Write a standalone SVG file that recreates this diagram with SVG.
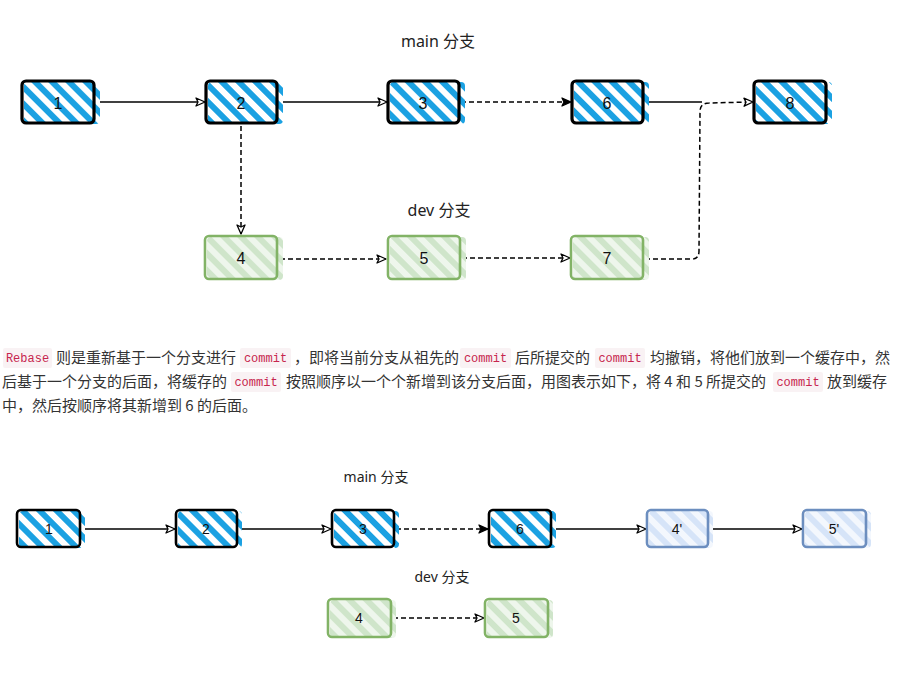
<svg xmlns="http://www.w3.org/2000/svg" width="902" height="676" viewBox="0 0 902 676">
<defs>
<pattern id="hb" width="12" height="12" patternUnits="userSpaceOnUse" patternTransform="rotate(-45)"><rect width="12" height="12" fill="#fff"/><rect width="6" height="12" fill="#1ba1e2"/></pattern>
<pattern id="hg" width="12" height="12" patternUnits="userSpaceOnUse" patternTransform="rotate(-45)"><rect width="12" height="12" fill="#eef6ec"/><rect width="6" height="12" fill="#cfe5ca"/></pattern>
<pattern id="hl" width="12" height="12" patternUnits="userSpaceOnUse" patternTransform="rotate(-45)"><rect width="12" height="12" fill="#f3f7fd"/><rect width="6" height="12" fill="#d6e4f8"/></pattern>
<marker id="open" markerWidth="12" markerHeight="10" refX="10" refY="5" orient="auto" markerUnits="userSpaceOnUse"><path d="M1,1 L10,5 L1,9 L3,5 Z" fill="#fff" stroke="#000" stroke-width="1.3" stroke-linejoin="round"/></marker>
<marker id="fill" markerWidth="12" markerHeight="10" refX="10" refY="5" orient="auto" markerUnits="userSpaceOnUse"><path d="M1,1 L10,5 L1,9 L3,5 Z" fill="#000" stroke="#000" stroke-width="1.3" stroke-linejoin="round"/></marker>
</defs>
<style>
.bk{stroke:#000;stroke-width:3.2;fill:none}
.bk2{stroke:#000;stroke-width:2.6;fill:none}
.gr{stroke:#82b366;stroke-width:2.6;fill:none}
.bl{stroke:#6c8ebf;stroke-width:2.6;fill:none}
.lbl{font-family:"Liberation Sans","Noto Sans CJK SC",sans-serif;fill:#111;text-anchor:middle;dominant-baseline:central}
.t1{font-size:16px}
.t2{font-size:14px}
.ttl{font-family:"Noto Sans","Noto Sans CJK SC",sans-serif;fill:#222;text-anchor:middle;dominant-baseline:central}
.e{fill:none;stroke:#000;stroke-width:1.5}
.d{stroke-dasharray:5 3}
.p{font-family:"Noto Sans CJK SC","Noto Sans",sans-serif;font-size:15px;fill:#333}
.c{font-family:"Liberation Mono","DejaVu Sans Mono",monospace;font-size:12px;fill:#c7254e;text-anchor:middle}
.cb{fill:#f9f2f4}
</style>

<text class="ttl" x="438" y="41" font-size="16">main 分支</text>
<text class="ttl" x="439" y="210" font-size="16">dev 分支</text>
<text class="ttl" x="376" y="476" font-size="14">main 分支</text>
<text class="ttl" x="442" y="576" font-size="14">dev 分支</text>

<g id="connectors">
<path class="e" d="M97,102 L205,102" marker-end="url(#open)"/>
<path class="e" d="M279,102 L387,102" marker-end="url(#open)"/>
<path class="e d" d="M461,102 L571,102" marker-end="url(#fill)"/>
<path class="e" d="M645,102 L702,102"/>
<path class="e d" d="M645,259 L692,259 Q699,259 699,251 L700,112 Q700,103 709,103 L753,102" marker-end="url(#open)"/>
<path class="e d" d="M241,126 L241,234" marker-end="url(#open)"/>
<path class="e d" d="M280,259 L386,259" marker-end="url(#open)"/>
<path class="e d" d="M462,258 L570,258" marker-end="url(#open)"/>

<path class="e" d="M82,529 L175,529" marker-end="url(#open)"/>
<path class="e" d="M239,529 L331,529" marker-end="url(#open)"/>
<path class="e d" d="M396,529 L488,529" marker-end="url(#fill)"/>
<path class="e" d="M553,529 L646,529" marker-end="url(#open)"/>
<path class="e" d="M710,529 L802,529" marker-end="url(#open)"/>
<path class="e d" d="M393,618 L484,618" marker-end="url(#open)"/>
</g>

<g id="n1"><rect x="24" y="82" width="76" height="42" rx="4" fill="url(#hb)"/><rect class="bk" x="22" y="81" width="72" height="42" rx="4"/><text class="lbl t1" x="58" y="103">1</text></g>
<g id="n2"><rect x="208" y="82" width="75" height="42" rx="4" fill="url(#hb)"/><rect class="bk" x="206" y="81" width="71" height="42" rx="4"/><text class="lbl t1" x="241" y="103">2</text></g>
<g id="n3"><rect x="390" y="82" width="75" height="42" rx="4" fill="url(#hb)"/><rect class="bk" x="388" y="81" width="71" height="42" rx="4"/><text class="lbl t1" x="423" y="103">3</text></g>
<g id="n6"><rect x="574" y="82" width="75" height="42" rx="4" fill="url(#hb)"/><rect class="bk" x="572" y="81" width="71" height="42" rx="4"/><text class="lbl t1" x="607" y="103">6</text></g>
<g id="n8"><rect x="756" y="82" width="76" height="42" rx="4" fill="url(#hb)"/><rect class="bk" x="754" y="81" width="72" height="42" rx="4"/><text class="lbl t1" x="790" y="103">8</text></g>

<g id="n4"><rect x="207" y="237" width="76" height="43" rx="4" fill="url(#hg)"/><rect class="gr" x="205" y="236" width="72" height="43" rx="4"/><text class="lbl t1" x="241" y="258">4</text></g>
<g id="n5"><rect x="390" y="237" width="76" height="43" rx="4" fill="url(#hg)"/><rect class="gr" x="388" y="236" width="72" height="43" rx="4"/><text class="lbl t1" x="424" y="258">5</text></g>
<g id="n7"><rect x="573" y="237" width="76" height="43" rx="4" fill="url(#hg)"/><rect class="gr" x="571" y="236" width="72" height="43" rx="4"/><text class="lbl t1" x="607" y="258">7</text></g>

<g id="text">
<rect class="cb" x="3" y="348" width="49" height="20" rx="2"/><text class="c" x="27.5" y="362">Rebase</text>
<text class="p" x="56" y="363">则是重新基于一个分支进行</text>
<rect class="cb" x="240" y="348" width="51" height="20" rx="2"/><text class="c" x="265.5" y="362">commit</text>
<text class="p" x="294" y="363">，即将当前分支从祖先的</text>
<rect class="cb" x="460" y="348" width="51" height="20" rx="2"/><text class="c" x="485.5" y="362">commit</text>
<text class="p" x="515" y="363">后所提交的</text>
<rect class="cb" x="595" y="348" width="50" height="20" rx="2"/><text class="c" x="620" y="362">commit</text>
<text class="p" x="650" y="363">均撤销，将他们放到一个缓存中，然</text>

<text class="p" x="2" y="387">后基于一个分支的后面，将缓存的</text>
<rect class="cb" x="231" y="372" width="50" height="20" rx="2"/><text class="c" x="256" y="386">commit</text>
<text class="p" x="286" y="387">按照顺序以一个个新增到该分支后面，用图表示如下，将 4 和 5 所提交的</text>
<rect class="cb" x="773" y="372" width="50" height="20" rx="2"/><text class="c" x="798" y="386">commit</text>
<text class="p" x="827" y="387">放到缓存</text>

<text class="p" x="2" y="411">中，然后按顺序将其新增到 6 的后面。</text>
</g>

<g id="b1"><rect x="19" y="511" width="66" height="37" rx="4" fill="url(#hb)"/><rect class="bk2" x="17" y="510" width="63" height="37" rx="4"/><text class="lbl t2" x="49" y="529">1</text></g>
<g id="b2"><rect x="178" y="511" width="64" height="37" rx="4" fill="url(#hb)"/><rect class="bk2" x="176" y="510" width="61" height="37" rx="4"/><text class="lbl t2" x="206" y="529">2</text></g>
<g id="b3"><rect x="334" y="511" width="65" height="37" rx="4" fill="url(#hb)"/><rect class="bk2" x="332" y="510" width="62" height="37" rx="4"/><text class="lbl t2" x="363" y="529">3</text></g>
<g id="b6"><rect x="491" y="511" width="65" height="37" rx="4" fill="url(#hb)"/><rect class="bk2" x="489" y="510" width="62" height="37" rx="4"/><text class="lbl t2" x="520" y="529">6</text></g>
<g id="b4p"><rect x="649" y="511" width="64" height="37" rx="4" fill="url(#hl)"/><rect class="bl" x="647" y="510" width="61" height="37" rx="4"/><text class="lbl t2" x="677" y="529">4'</text></g>
<g id="b5p"><rect x="805" y="511" width="66" height="37" rx="4" fill="url(#hl)"/><rect class="bl" x="803" y="510" width="63" height="37" rx="4"/><text class="lbl t2" x="834" y="529">5'</text></g>
<g id="b4"><rect x="330" y="600" width="66" height="38" rx="4" fill="url(#hg)"/><rect class="gr" x="328" y="599" width="63" height="38" rx="4"/><text class="lbl t2" x="359" y="618">4</text></g>
<g id="b5"><rect x="487" y="600" width="66" height="38" rx="4" fill="url(#hg)"/><rect class="gr" x="485" y="599" width="63" height="38" rx="4"/><text class="lbl t2" x="516" y="618">5</text></g>
</svg>
